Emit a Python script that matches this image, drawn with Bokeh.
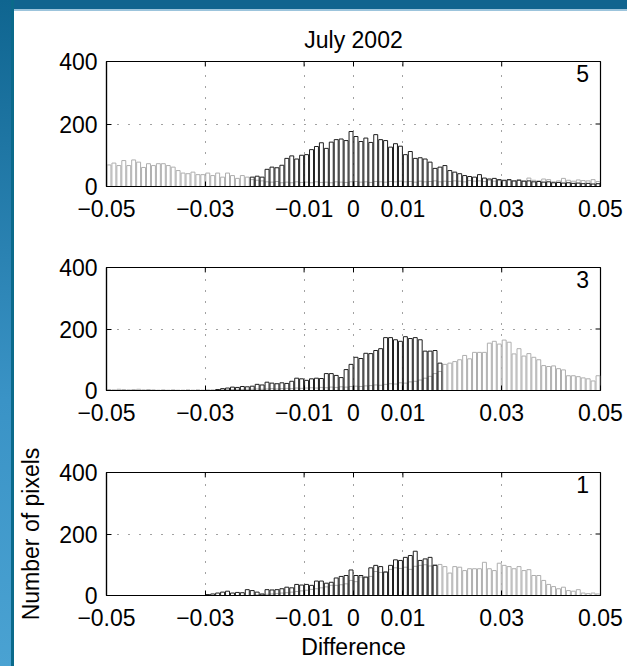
import numpy as np
from bokeh.plotting import figure
from bokeh.models import (Range1d, FixedTicker, CustomJSTickFormatter, Label, Div)
from bokeh.layouts import row, column
from bokeh.embed import file_html
from bokeh.resources import INLINE

# ---------------- data ----------------
title_text = "July 2002"
x_label = "Difference"
y_label = "Number of pixels"
x_ticks = [-0.05, -0.03, -0.01, 0, 0.01, 0.03, 0.05]
y_ticks = [0, 200, 400]
bin_width = 0.001
bin_centers = [round(-0.0495 + bin_width * i, 4) for i in range(100)]
panel_labels = ["5", "3", "1"]

gray_5 = [69, 75, 67, 83, 67, 85, 78, 61, 73, 67, 73, 73, 67, 62, 51, 43, 41, 46, 38, 38,
          43, 35, 43, 30, 43, 35, 26, 35, 30, 22, 20, 18, 15, 14, 16, 12, 14, 12, 15, 13,
          14, 12, 15, 13, 14, 12, 15, 14, 13, 15, 16, 14, 15, 13, 16, 15, 14, 16, 15, 17,
          15, 16, 14, 17, 15, 16, 18, 15, 17, 16, 18, 17, 15, 19, 17, 18, 16, 20, 17, 19,
          18, 20, 17, 22, 18, 27, 20, 18, 24, 22, 15, 18, 26, 20, 17, 21, 19, 18, 22, 16]
black_5 = [0, 0, 0, 0, 0, 0, 0, 0, 0, 0, 0, 0, 0, 0, 0, 0, 0, 0, 0, 0,
           0, 0, 0, 0, 0, 0, 0, 0, 0, 30, 33, 30, 55, 62, 60, 68, 90, 98, 88, 100,
           102, 118, 128, 140, 122, 142, 150, 152, 147, 176, 160, 144, 155, 141, 166, 150, 147, 126, 137, 129,
           102, 112, 90, 92, 88, 78, 58, 62, 67, 51, 46, 41, 35, 32, 30, 38, 27, 24, 26, 22,
           20, 22, 18, 20, 17, 18, 15, 16, 14, 15, 12, 13, 11, 12, 10, 11, 9, 10, 8, 9]

gray_3 = [3, 2, 4, 3, 2, 3, 4, 2, 3, 2, 1, 2, 1, 2, 1, 1, 2, 1, 2, 1,
          2, 2, 3, 2, 3, 3, 4, 3, 4, 4, 5, 4, 5, 6, 5, 6, 7, 6, 8, 7,
          8, 9, 8, 10, 9, 11, 10, 12, 11, 13, 14, 13, 15, 16, 18, 17, 20, 22, 21, 25,
          24, 28, 30, 34, 40, 46, 55, 62, 85, 89, 94, 100, 114, 103, 124, 124, 124, 154, 160, 151,
          164, 157, 119, 136, 112, 120, 108, 100, 81, 78, 80, 71, 67, 48, 48, 45, 41, 38, 31, 48]
black_3 = [0, 0, 0, 0, 0, 0, 0, 0, 0, 0, 0, 0, 0, 0, 0, 0, 0, 0, 0, 0,
           0, 0, 3, 6, 8, 11, 10, 13, 12, 14, 20, 18, 27, 24, 22, 25, 23, 30, 40, 38,
           33, 38, 40, 39, 55, 55, 49, 42, 68, 85, 108, 104, 121, 120, 130, 136, 172, 172, 165, 160,
           175, 169, 172, 165, 128, 128, 130, 89, 0, 0, 0, 0, 0, 0, 0, 0, 0, 0, 0, 0,
           0, 0, 0, 0, 0, 0, 0, 0, 0, 0, 0, 0, 0, 0, 0, 0, 0, 0, 0, 0]

gray_1 = [0, 0, 0, 0, 0, 0, 0, 0, 0, 0, 0, 0, 0, 0, 0, 0, 0, 0, 0, 0,
          0, 0, 0, 0, 0, 0, 0, 0, 0, 0, 2, 3, 4, 5, 6, 8, 9, 11, 13, 15,
          17, 20, 22, 25, 28, 33, 33, 35, 38, 49, 45, 60, 58, 62, 78, 75, 78, 85, 90, 88,
          92, 85, 95, 98, 100, 96, 100, 101, 94, 73, 94, 92, 81, 87, 87, 87, 108, 87, 81, 105,
          98, 94, 87, 94, 81, 84, 65, 65, 49, 36, 29, 22, 27, 16, 14, 19, 8, 6, 8, 5]
black_1 = [0, 0, 0, 0, 0, 0, 0, 0, 0, 0, 0, 0, 0, 0, 0, 0, 0, 0, 0, 0,
           3, 5, 8, 11, 14, 8, 10, 9, 19, 16, 11, 5, 19, 18, 19, 22, 27, 25, 36, 34,
           36, 33, 47, 47, 40, 43, 57, 62, 65, 83, 65, 65, 60, 90, 98, 94, 76, 98, 116, 114,
           124, 130, 144, 114, 119, 124, 98, 0, 0, 0, 0, 0, 0, 0, 0, 0, 0, 0, 0, 0,
           0, 0, 0, 0, 0, 0, 0, 0, 0, 0, 0, 0, 0, 0, 0, 0, 0, 0, 0, 0]

# ---------------- styling ----------------
FONT = "Liberation Sans"
FS = "23px"
GRAY = "#aeaeae"
BLACK = "#1e1e1e"
X_LO, X_HI = -0.05, 0.05
Y_LO, Y_HI = 0, 400

minus_fmt = """
if (Math.abs(tick) < 1e-12) { return "0"; }
var s = Math.abs(tick).toFixed(2);
return (tick < 0 ? "\\u2212" : "") + s;
"""


def style_axis(ax):
    ax.major_tick_in = 5
    ax.major_tick_out = 0
    ax.minor_tick_in = 0
    ax.minor_tick_out = 0
    ax.axis_line_color = "black"
    ax.axis_line_width = 1.2
    ax.major_tick_line_color = "black"
    ax.major_label_text_font = FONT
    ax.major_label_text_color = "black"
    ax.major_label_text_font_size = FS


def make_panel(gray, black, label, height, top, bottom, title=None,
               xlab=None, ylab=None):
    p = figure(width=613, height=height, x_range=Range1d(X_LO, X_HI),
               y_range=Range1d(Y_LO, Y_HI), output_backend="svg",
               toolbar_location=None, min_border_left=92, min_border_right=27,
               min_border_top=top, min_border_bottom=bottom,
               background_fill_color="white", border_fill_color="white",
               outline_line_color="black", outline_line_width=1.2)
    xa = p.below[0]
    ya = p.left[0]
    xa.ticker = FixedTicker(ticks=x_ticks)
    xa.formatter = CustomJSTickFormatter(code=minus_fmt)
    ya.ticker = FixedTicker(ticks=y_ticks)
    style_axis(xa)
    style_axis(ya)
    xa.major_label_standoff = 13
    ya.major_label_standoff = 9

    p.xgrid.ticker = FixedTicker(ticks=x_ticks)
    p.ygrid.ticker = FixedTicker(ticks=y_ticks)
    for g in (p.xgrid, p.ygrid):
        g.grid_line_color = "#444444"
        g.grid_line_dash = "1 10"
        g.grid_line_width = 1

    # mirrored (box) ticks on the top and right edges, pointing inward
    p.segment(x0=x_ticks, y0=[Y_HI] * len(x_ticks), x1=x_ticks,
              y1=[Y_HI - 16] * len(x_ticks), line_color="black", line_width=1)
    p.segment(x0=[X_HI] * len(y_ticks), y0=y_ticks,
              x1=[X_HI - 0.001] * len(y_ticks), y1=y_ticks,
              line_color="black", line_width=1)

    p.vbar(x=bin_centers, top=gray, bottom=0, width=bin_width * 0.8,
           fill_color=None, line_color=GRAY, line_width=1)
    p.vbar(x=bin_centers, top=black, bottom=0, width=bin_width * 0.8,
           fill_color=None, line_color=BLACK, line_width=1)

    p.add_layout(Label(x=0.0477, y=388, text=label, text_align="right",
                       text_baseline="top", text_font=FONT, text_font_size=FS,
                       text_color="black"))

    if title:
        p.title.text = title
        p.title.align = "center"
        p.title.text_font = FONT
        p.title.text_font_size = FS
        p.title.text_font_style = "normal"
        p.title.text_color = "black"
        p.title.standoff = 18
    if xlab:
        xa.axis_label = xlab
        xa.axis_label_text_font = FONT
        xa.axis_label_text_font_size = FS
        xa.axis_label_text_font_style = "normal"
        xa.axis_label_text_color = "black"
        xa.axis_label_standoff = 5
    if ylab:
        ya.axis_label = ylab
        ya.axis_label_text_font = FONT
        ya.axis_label_text_font_size = FS
        ya.axis_label_text_font_style = "normal"
        ya.axis_label_text_color = "black"
        ya.axis_label_standoff = 12
    return p


p1 = make_panel(gray_5, black_5, panel_labels[0], 226, 50, 51, title=title_text)
p2 = make_panel(gray_3, black_3, panel_labels[1], 205, 30, 52)
p3 = make_panel(gray_1, black_1, panel_labels[2], 224, 30, 71,
                xlab=x_label, ylab=y_label)

left_strip = Div(width=14, height=666, margin=0, styles={
    "background": "linear-gradient(to right, rgba(0,0,0,0) 80%, #0b6a8b 80%), "
                  "linear-gradient(to bottom, #0f6590, #3a93c6 60%, #4aa2d2)"})
top_strip = Div(width=613, height=11, margin=0, styles={
    "background": "linear-gradient(to bottom, #10648f 85%, #9cc4dc 85%)"})

layout = row(left_strip, column(top_strip, p1, p2, p3, spacing=0), spacing=0)

open("out.html", "w").write(file_html(layout, INLINE))
